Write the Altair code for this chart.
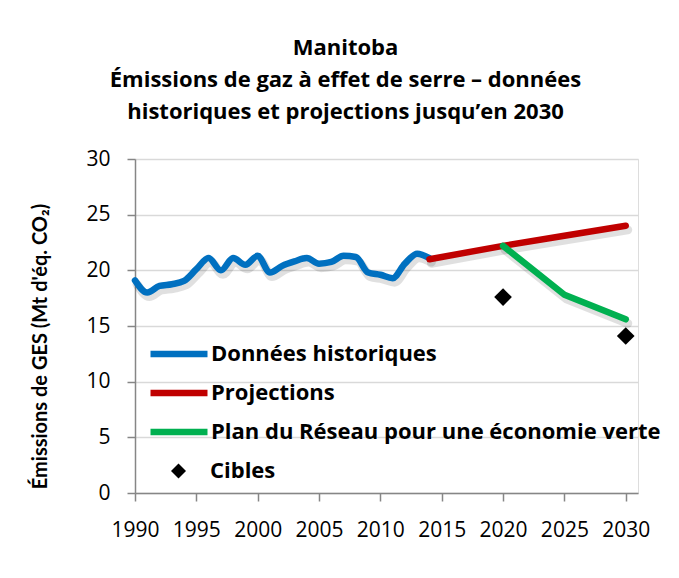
import altair as alt
import pandas as pd

hist_years = list(range(1990, 2015))
hist_values = [19.1, 18.0, 18.6, 18.75, 19.05, 20.1, 21.1, 20.0, 21.1, 20.5,
               21.3, 19.8, 20.4, 20.8, 21.1, 20.6, 20.75, 21.3, 21.2, 19.8,
               19.6, 19.3, 20.6, 21.5, 21.1]
proj_years = [2014, 2020, 2025, 2030]
proj_values = [21.0, 22.2, 23.1, 24.0]
plan_years = [2020, 2025, 2030]
plan_values = [22.2, 17.8, 15.6]
target_years = [2020, 2030]
target_values = [17.6, 14.1]

S_HIST = "Données historiques"
S_PROJ = "Projections"
S_PLAN = "Plan du Réseau pour une économie verte"
S_TGT = "Cibles"

rows = []
for y, v in zip(hist_years, hist_values):
    rows.append({"year": y, "value": v, "series": S_HIST})
for y, v in zip(proj_years, proj_values):
    rows.append({"year": y, "value": v, "series": S_PROJ})
for y, v in zip(plan_years, plan_values):
    rows.append({"year": y, "value": v, "series": S_PLAN})
for y, v in zip(target_years, target_values):
    rows.append({"year": y, "value": v, "series": S_TGT})
df = pd.DataFrame(rows)

BFONT = "Open Sans"
TFONT = "Open Sans"

x = alt.X("year:Q",
          scale=alt.Scale(domain=[1990, 2031], nice=False, zero=False),
          axis=alt.Axis(values=list(range(1990, 2031, 5)), format="d", title=None,
                        grid=False, labelFontSize=21, labelFont=TFONT, labelColor="#000",
                        domainColor="#868686", domainWidth=1.5, tickColor="#868686",
                        tickWidth=1.5, tickSize=8, labelPadding=18, labelFlush=False))
y = alt.Y("value:Q",
          scale=alt.Scale(domain=[0, 30], nice=False),
          axis=alt.Axis(values=list(range(0, 31, 5)),
                        title="Émissions de GES (Mt d'éq. CO₂)",
                        titleFont="Lato", titleFontSize=20, titleFontWeight="bold",
                        titleColor="#000", titleX=-95, titleY=187, titleAngle=270,
                        titleAlign="center", titleBaseline="middle",
                        labelFontSize=21, labelFont=TFONT, labelColor="#000",
                        labelPadding=17, gridColor="#d9d9d9", gridWidth=1.5,
                        domainColor="#868686", domainWidth=1.5, tickColor="#868686",
                        tickWidth=1.5, tickSize=8))

color = alt.Color("series:N",
                  scale=alt.Scale(domain=[S_HIST, S_PROJ, S_PLAN],
                                  range=["#0070C0", "#C00000", "#00B050"]),
                  legend=alt.Legend(title=None, orient="none", legendX=33, legendY=184,
                                    symbolType="M-4,0H4", symbolSize=203,
                                    symbolStrokeWidth=6.5, labelFont=BFONT,
                                    labelFontSize=22, labelFontWeight="bold",
                                    labelColor="#000", labelOffset=21, labelLimit=700,
                                    rowPadding=13, padding=0))

base = alt.Chart(df)
hist_f = alt.datum.series == S_HIST
proj_f = (alt.datum.series == S_PROJ) | (alt.datum.series == S_PLAN)

hist_shadow = base.transform_filter(hist_f).mark_line(
    interpolate="monotone", strokeWidth=9, strokeCap="round", strokeJoin="round",
    color="#000", opacity=0.12, xOffset=2, yOffset=4
).encode(x=x, y=y, detail="series:N")

proj_shadow = base.transform_filter(proj_f).mark_line(
    strokeWidth=9, strokeCap="round", strokeJoin="round",
    color="#000", opacity=0.12, xOffset=2, yOffset=4
).encode(x=x, y=y, detail="series:N")

hist = base.transform_filter(hist_f).mark_line(
    interpolate="monotone", strokeWidth=6.5, strokeCap="round", strokeJoin="round"
).encode(x=x, y=y, color=color)

proj = base.transform_filter(proj_f).mark_line(
    strokeWidth=6.5, strokeCap="round", strokeJoin="round"
).encode(x=x, y=y, color=color)

tgt = base.transform_filter(alt.datum.series == S_TGT).mark_point(
    filled=True, opacity=1, size=313, color="#000", strokeWidth=0
).encode(
    x=x, y=y,
    shape=alt.Shape("series:N",
                    scale=alt.Scale(domain=[S_TGT], range=["diamond"]),
                    legend=alt.Legend(title=None, orient="none", legendX=32.5, legendY=301,
                                      symbolSize=225, symbolFillColor="#000",
                                      symbolStrokeWidth=0, labelFont=BFONT,
                                      labelFontSize=22, labelFontWeight="bold",
                                      labelColor="#000", labelOffset=20.5, padding=0))
)

chart = alt.layer(hist_shadow, proj_shadow, hist, proj, tgt).properties(
    width=503, height=334,
    title=alt.Title(["Manitoba",
                     "Émissions de gaz à effet de serre – données",
                     "historiques et projections jusqu’en 2030"],
                    font=BFONT, fontSize=22, fontWeight="bold", color="#000",
                    lineHeight=32, anchor="middle", frame="group", dx=-41, offset=24),
    autosize=alt.AutoSizeParams(type="none"),
    padding={"left": 127, "top": 151, "right": 30, "bottom": 70},
).configure_view(stroke=None).configure(background="white")

chart.save("out.html", embed_options={"renderer": "svg", "actions": False})
